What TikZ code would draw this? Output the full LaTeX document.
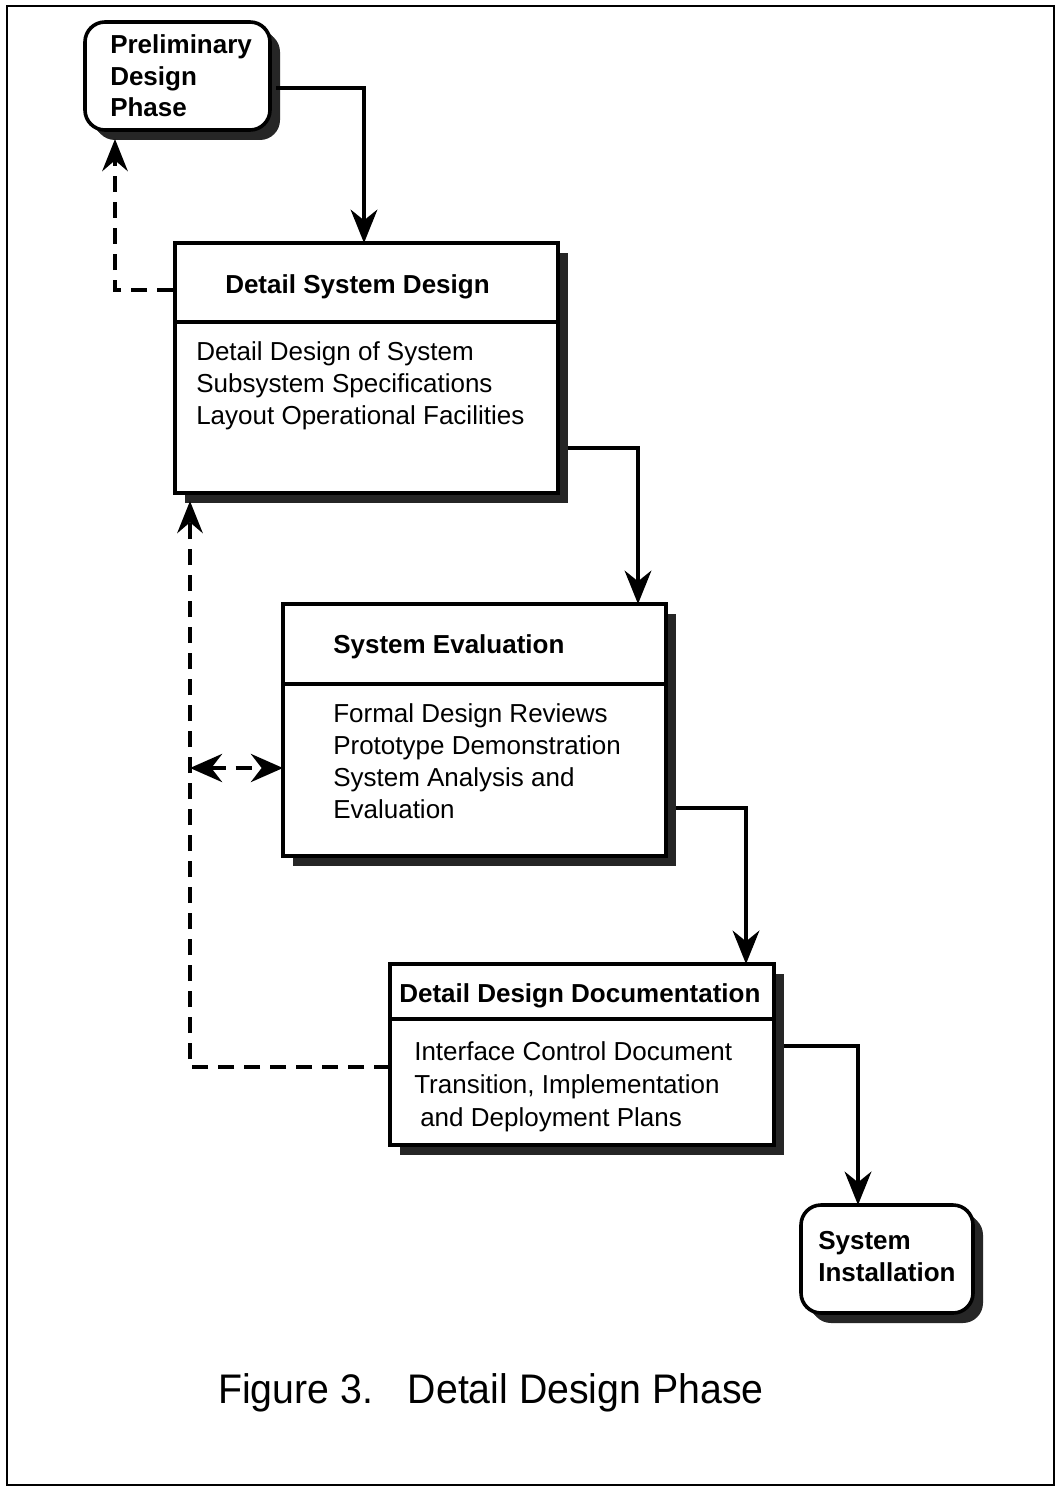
\documentclass[tikz,border=0pt]{standalone}
\usepackage{fontspec}
\setmainfont{Liberation Sans}
\newfontfamily\capfont[FakeStretch=0.95]{Liberation Sans}
\usetikzlibrary{arrows.meta,calc,shadows}

\begin{document}
\begin{tikzpicture}[x=0.75pt,y=-0.75pt,
  box/.style={draw, line width=2.7pt, fill=white, inner sep=0pt, outer sep=0pt,
    anchor=north west,
    drop shadow={shadow xshift=7.5pt, shadow yshift=-7.5pt, fill=black!85, opacity=1}},
  roundbox/.style={box, rounded corners=15pt,
    drop shadow={shadow xshift=5.5pt, shadow yshift=-5.5pt, fill=black!85, opacity=1}},
  divider/.style={line width=2.5pt},
  txt/.style={anchor=base west, inner sep=0pt, font=\fontsize{19.5pt}{24pt}\selectfont},
  ttl/.style={anchor=base west, inner sep=0pt, font=\fontsize{19.5pt}{24pt}\selectfont\bfseries},
  flow/.style={line width=2.8pt, -{Stealth[length=25pt,width=20pt,inset=8pt]}},
  back/.style={line width=3.6pt, dash pattern=on 12pt off 7.5pt,
    -{Stealth[length=24pt,width=19pt,inset=8pt]}},
  backboth/.style={line width=3.6pt, dash pattern=on 12pt off 7.5pt,
    {Stealth[length=24pt,width=21pt,inset=8pt]}-{Stealth[length=24pt,width=21pt,inset=8pt]}}
]
\useasboundingbox (0,0) rectangle (1056,1487);
\fill[white] (0,0) rectangle (1056,1487);

% page frame
\draw[line width=1.6pt] (7,6) rectangle (1054,1485);

% phase boxes
\node[roundbox, minimum width=138.75pt, minimum height=81pt] (pdp) at (85,22) {};
\node[box, minimum width=287.25pt, minimum height=187.5pt] (dsd) at (175,243) {};
\node[box, minimum width=287.25pt, minimum height=189pt] (se) at (283,604) {};
\node[box, minimum width=288pt, minimum height=135.75pt] (dde) at (390,964) {};
\node[roundbox, minimum width=129pt, minimum height=81pt] (si) at (801,1205) {};

% title separators
\draw[divider] ($(dsd.north west)+(0,79)$) -- ($(dsd.north east)+(0,79)$);
\draw[divider] ($(se.north west)+(0,80)$) -- ($(se.north east)+(0,80)$);
\draw[divider] ($(dde.north west)+(0,55)$) -- ($(dde.north east)+(0,55)$);

% preliminary design phase
\node[ttl] (pdp1) at (110,54) {Preliminary};
\node[ttl] (pdp2) at (110,86) {Design};
\node[ttl] (pdp3) at (110,117) {Phase};

% detail system design
\node[ttl] (dsdT) at (225,293) {Detail System Design};
\node[txt] (dsd1) at (196,360) {Detail Design of System};
\node[txt] (dsd2) at (196,392) {Subsystem Specifications};
\node[txt] (dsd3) at (196,424) {Layout Operational Facilities};

% system evaluation
\node[ttl] (seT) at (333,653) {System Evaluation};
\node[txt] (se1) at (333,722) {Formal Design Reviews};
\node[txt] (se2) at (333,754) {Prototype Demonstration};
\node[txt] (se3) at (333,786) {System Analysis and};
\node[txt] (se4) at (333,818) {Evaluation};

% detail design documentation
\node[ttl] (ddeT) at (399,1002) {Detail Design Documentation};
\node[txt] (dde1) at (414,1060) {Interface Control Document};
\node[txt] (dde2) at (414,1093) {Transition, Implementation};
\node[txt] (dde3) at (420,1126) {and Deployment Plans};

% system installation
\node[ttl] (si1) at (818,1249) {System};
\node[ttl] (si2) at (818,1281) {Installation};

% forward flow
\draw[flow] ($(pdp.north east)+(6,66)$) -| ($(dsd.north west)+(189,0)$);
\draw[flow] ($(dsd.north east)+(10,205)$) -| ($(se.north west)+(355,0)$);
\draw[flow] ($(se.north east)+(10,204)$) -| ($(dde.north west)+(356,0)$);
\draw[flow] ($(dde.north east)+(10,82)$) -| ($(si.north west)+(57,0)$);

% feedback paths
\coordinate (bend) at (190,1067);
\coordinate (tap) at (190,768);
\draw[back] ($(dsd.north west)+(-2,47)$) -| ($(pdp.south west)+(30,9)$);
\draw[back] ($(dde.north west)+(0,103)$) -- (bend) -- ($(dsd.south west)+(15,8)$);
\draw[backboth] (tap) -- ($(se.north west)+(0,164)$);

% caption
\node[anchor=base west, inner sep=0pt, font=\capfont\fontsize{31pt}{36pt}\selectfont]
  (cap) at (218,1403) {Figure 3.\hspace{26pt}Detail Design Phase};
\end{tikzpicture}
\end{document}
